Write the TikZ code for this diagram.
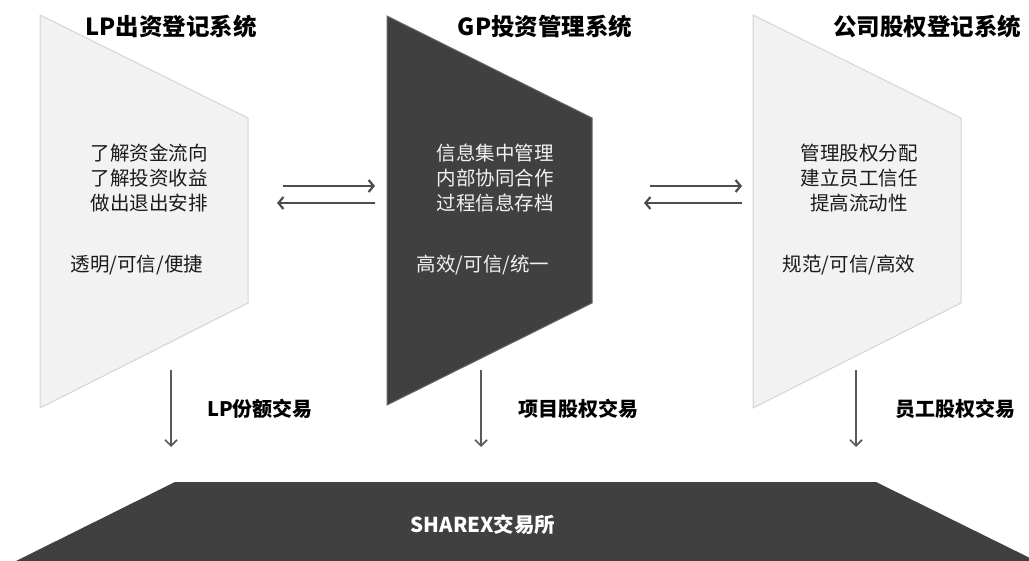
\documentclass[tikz,border=0pt]{standalone}
\usepackage{fontspec}
\setmainfont{Noto Sans CJK SC}
\usetikzlibrary{arrows.meta}
\definecolor{lightfill}{HTML}{F2F2F2}
\definecolor{lightedge}{HTML}{D4D4D4}
\definecolor{darkfill}{HTML}{404040}
\definecolor{arrowc}{HTML}{4D4D4D}
\definecolor{downc}{HTML}{5A5A5A}
\definecolor{txt}{HTML}{1A1A1A}
\begin{document}
\begin{tikzpicture}[x=1pt,y=-1pt,
  lightshape/.style={fill=lightfill,draw=lightedge,line width=1pt},
  darkshape/.style={fill=darkfill,draw=darkfill!80!white,line width=1pt},
  titletext/.style={font=\fontsize{23.5}{27}\selectfont\bfseries,text=black,inner sep=0pt},
  bodytext/.style={font=\fontsize{19.5}{25}\selectfont,text=txt,align=center,inner sep=0pt},
  bodylight/.style={bodytext,text=white!95!black},
  labeltext/.style={font=\fontsize{20}{24}\selectfont\bfseries,text=black,inner sep=0pt},
  flowarrow/.style={draw=arrowc,line width=2.4pt,-{Straight Barb[length=5pt,width=12pt,line width=2.2pt]}},
  downarrow/.style={draw=downc,line width=1.7pt,-{Straight Barb[length=6pt,width=12pt,line width=1.7pt]}}
]
\useasboundingbox (0,0) rectangle (1029,561);

% shapes
\path[lightshape] (40,15) -- (248,118) -- (248,303) -- (40,408) -- cycle;
\path[darkshape] (387,16) -- (592,118) -- (592,303) -- (387,405) -- cycle;
\path[lightshape] (753,15) -- (961,118) -- (961,303) -- (753,408) -- cycle;
\path[fill=darkfill] (16,561) -- (175,482) -- (876,482) -- (1036,561) -- cycle;

% titles
\node[titletext] (t1) at (171,27) {LP出资登记系统};
\node[titletext] (t2) at (545,27) {GP投资管理系统};
\node[titletext] (t3) at (927,27) {公司股权登记系统};

% body texts
\node[bodytext] (b1) at (149,178) {了解资金流向\\了解投资收益\\做出退出安排};
\node[bodytext] (k1) at (137,265) {透明/可信/便捷};
\node[bodylight] (b2) at (495,178) {信息集中管理\\内部协同合作\\过程信息存档};
\node[bodylight] (k2) at (483,265) {高效/可信/统一};
\node[bodytext] (b3) at (859,178) {管理股权分配\\建立员工信任\\提高流动性};
\node[bodytext] (k3) at (849,265) {规范/可信/高效};

% exchange
\node[font=\fontsize{20.5}{24}\selectfont\bfseries,text=white,inner sep=0pt] (ex) at (483,525) {SHAREX交易所};

% horizontal arrows
\coordinate (a1s) at (283,186); \coordinate (a1e) at (375,186);
\coordinate (a2s) at (375,203); \coordinate (a2e) at (277,203);
\coordinate (a3s) at (650,186); \coordinate (a3e) at (742,186);
\coordinate (a4s) at (742,203); \coordinate (a4e) at (644,203);
\draw[flowarrow] (a1s) -- (a1e);
\draw[flowarrow] (a2s) -- (a2e);
\draw[flowarrow] (a3s) -- (a3e);
\draw[flowarrow] (a4s) -- (a4e);

% down arrows
\coordinate (d1s) at (171,370); \coordinate (d1e) at (171,447);
\coordinate (d2s) at (481,370); \coordinate (d2e) at (481,447);
\coordinate (d3s) at (856,370); \coordinate (d3e) at (856,447);
\draw[downarrow] (d1s) -- (d1e);
\draw[downarrow] (d2s) -- (d2e);
\draw[downarrow] (d3s) -- (d3e);

\node[labeltext] (l1) at (260,409) {LP份额交易};
\node[labeltext] (l2) at (578,409) {项目股权交易};
\node[labeltext] (l3) at (955,409) {员工股权交易};
\end{tikzpicture}
\end{document}
